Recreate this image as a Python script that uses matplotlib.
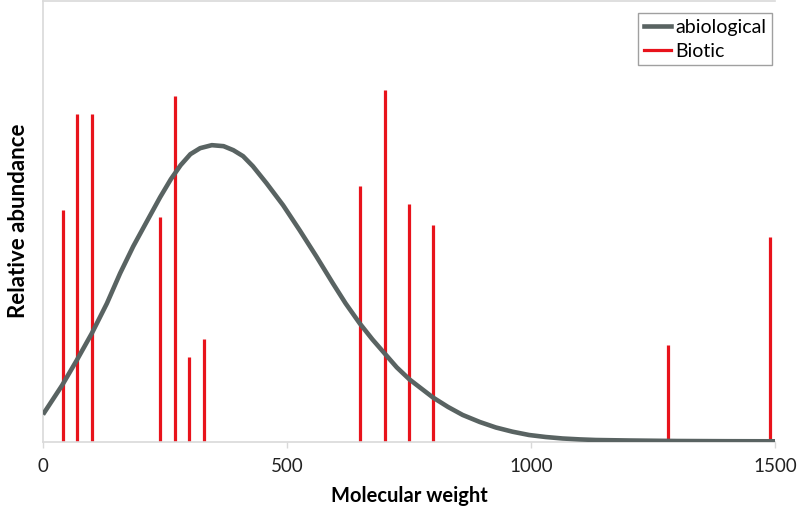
import matplotlib
matplotlib.use("Agg")
import matplotlib.pyplot as plt
from matplotlib.lines import Line2D

plt.rcParams['font.family'] = ['Lato', 'DejaVu Sans']

# abiological curve
abio_x = [0, 39, 69, 100, 131, 158, 185, 213, 240, 262, 282, 302, 322, 346, 370, 390, 410, 430, 458,
          492, 526, 560, 594, 620, 649, 675, 700, 725, 751, 775, 799, 830, 860, 895, 928, 962, 996,
          1030, 1065, 1100, 1133, 1201, 1300, 1400, 1500]
abio_y = [27, 56, 81, 108, 138, 168, 195, 220, 244, 262, 276, 287, 293, 296, 295, 291, 285, 275, 258,
          236, 211, 185, 158, 138, 118, 102, 88, 74, 62, 53, 44, 34.5, 26.5, 19.5, 14, 9.8, 6.5,
          4.5, 3, 2.1, 1.5, 1, 0.5, 0.3, 0.2]

# biotic peaks
bio_x = [40, 70, 100, 240, 270, 300, 330, 650, 700, 750, 800, 1280, 1490]
bio_y = [231, 327, 327, 224, 345, 84, 102, 255, 351, 237, 216, 96, 204]

xticks = [0, 500, 1000, 1500]

fig = plt.figure(figsize=(8.0, 5.15), dpi=100)
ax = fig.add_axes([43/800, (515-441.5)/515, (775-43)/800, 440.5/515])

red = '#e8131b'
grey = '#596362'

ax.vlines(bio_x, 0, bio_y, colors=red, linewidth=2.3, zorder=2)
ax.plot(abio_x, abio_y, color=grey, linewidth=3.3, solid_capstyle='butt',
        solid_joinstyle='round', zorder=3)

ax.set_xlim(0, 1500)
ax.set_ylim(0, 440)
ax.set_xticks(xticks)
ax.set_xticklabels([str(t) for t in xticks], fontsize=13.5, color='#222222')
ax.set_yticks([])
ax.tick_params(axis='x', length=4, width=1, color='#d9d9d9', pad=8)

for s in ['left', 'bottom', 'top']:
    ax.spines[s].set_color('#d9d9d9')
    ax.spines[s].set_linewidth(1.2)
ax.spines['right'].set_visible(False)

ax.set_xlabel('Molecular weight', fontsize=14.5, fontweight='bold', labelpad=8)
ax.set_ylabel('Relative abundance', fontsize=16, fontweight='bold', labelpad=10)

handles = [Line2D([0], [0], color=grey, linewidth=3.3),
           Line2D([0], [0], color=red, linewidth=2.3)]
leg = ax.legend(handles, ['abiological', 'Biotic'], loc='upper right',
                bbox_to_anchor=(772/800, (515-13)/515), bbox_transform=fig.transFigure,
                fontsize=14, frameon=True, fancybox=False, handlelength=1.4,
                handletextpad=0.2, borderpad=0.3, labelspacing=0.35, borderaxespad=0)
leg.get_frame().set_edgecolor('#888888')
leg.get_frame().set_linewidth(1.0)

fig.savefig('out.png', dpi=100)
